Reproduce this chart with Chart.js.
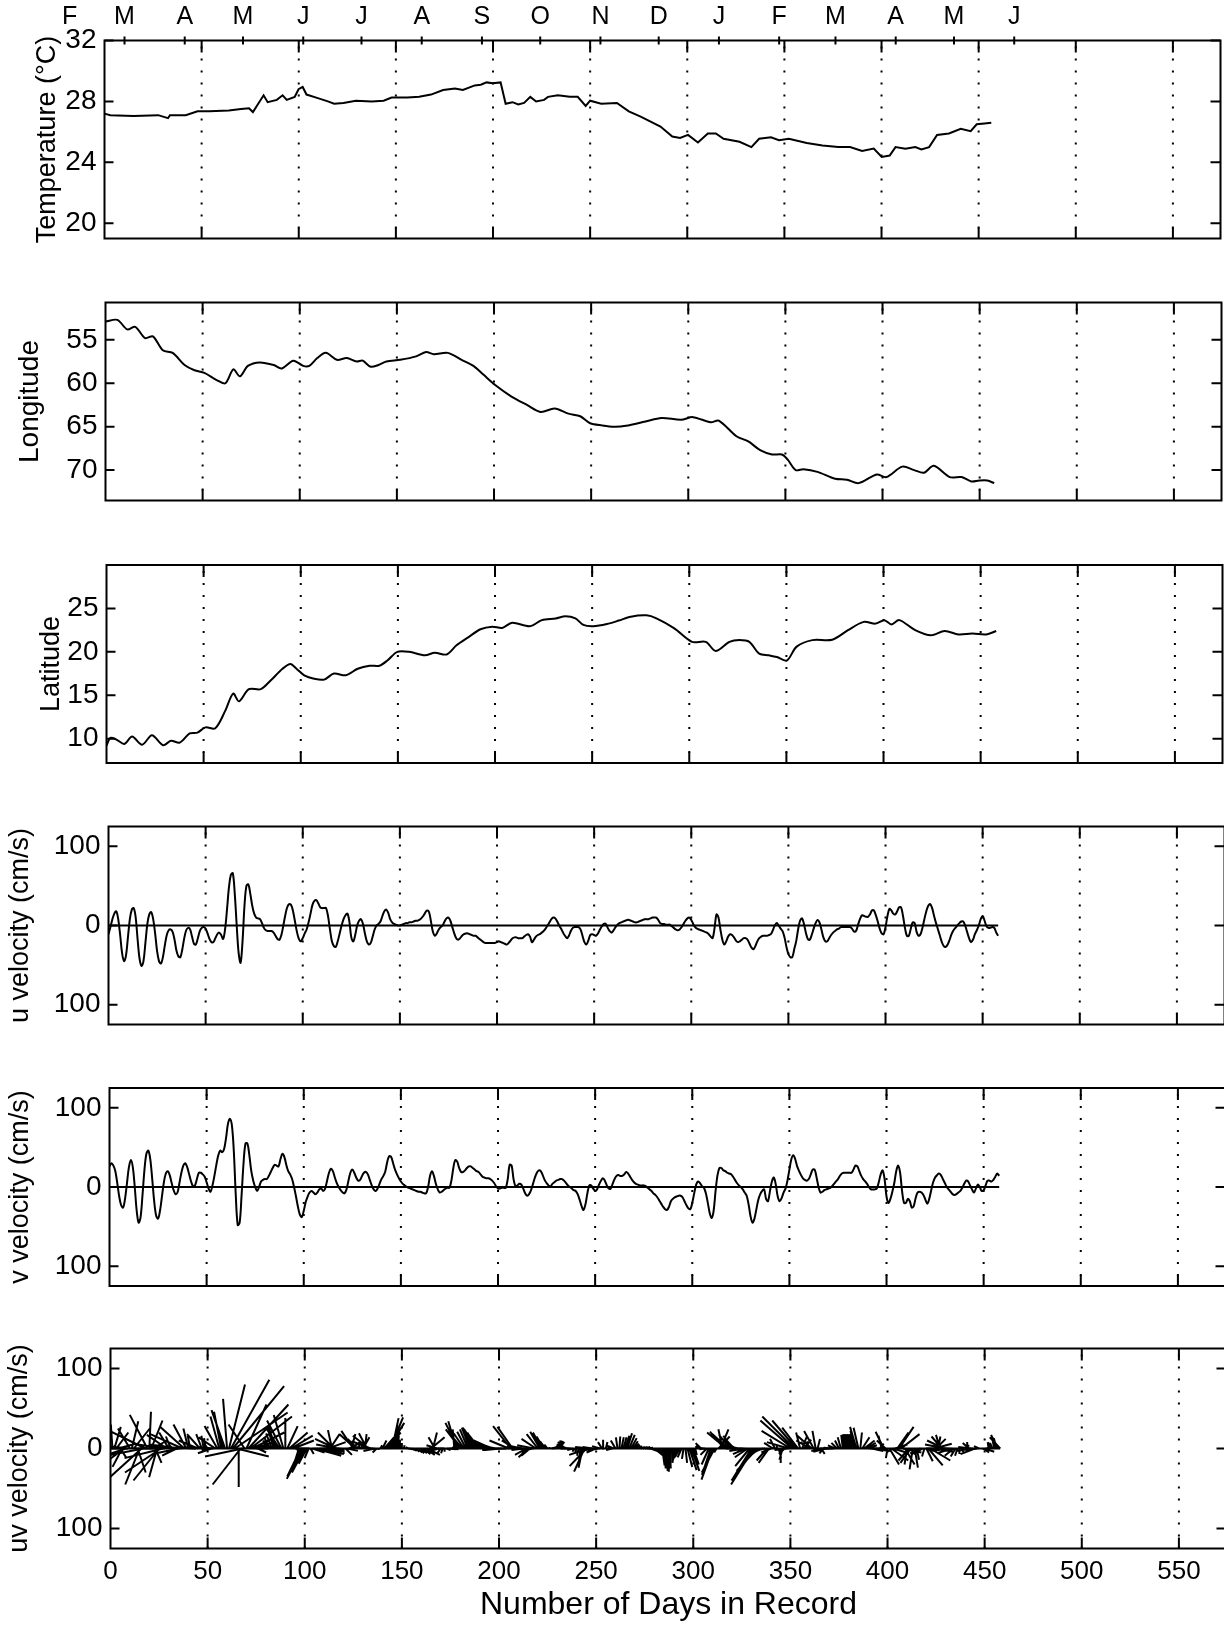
<!DOCTYPE html>
<html>
<head>
<meta charset="utf-8">
<title>Drifter record</title>
<script src="https://cdn.jsdelivr.net/npm/chart.js@4.4.1/dist/chart.umd.min.js"></script>
<style>
  body { margin: 0; background: #fff; width: 1224px; height: 1625px; position: relative; overflow: hidden; }
  canvas { position: absolute; }
</style>
</head>
<body>
<canvas id="c1" width="1224" height="270" style="left:0px;top:0px"></canvas>
<canvas id="c2" width="1224" height="260" style="left:1px;top:272px"></canvas>
<canvas id="c3" width="1224" height="260" style="left:2px;top:535px"></canvas>
<canvas id="c4" width="1224" height="260" style="left:4px;top:796px"></canvas>
<canvas id="c5" width="1224" height="260" style="left:5px;top:1058px"></canvas>
<canvas id="c6" width="1224" height="307" style="left:6px;top:1318px"></canvas>
<script>
// ---- data ----
let months = ["F", "M", "A", "M", "J", "J", "A", "S", "O", "N", "D", "J", "F", "M", "A", "M", "J"];
let monthDays = [-18, 10.3, 41.3, 71.3, 102.3, 132.3, 163.3, 194.3, 224.3, 255.3, 285.3, 316.3, 347.3, 376.3, 407.3, 437.3, 468.3];
let dayTicks = [0, 50, 100, 150, 200, 250, 300, 350, 400, 450, 500, 550];
let gridDays = [50, 100, 150, 200, 250, 300, 350, 400, 450, 500, 550];

let tempTicks = [20, 24, 28, 32];
let lonTicks = [55, 60, 65, 70];
let latTicks = [10, 15, 20, 25];
let velTicks = [-100, 0, 100];

let tempDay = [0, 3, 15, 27.6, 32.7, 33.7, 41.8, 47.9, 54, 64, 70.3, 74.4, 76.4, 78.4, 81.9, 84, 88.7, 91.7, 93.8, 97.9,
  99.9, 102, 104, 109, 115, 118.2, 123, 129.4, 137.6, 143.7, 147.8, 155.9, 162, 168.1, 174.3, 180.4, 184.5, 190.6, 193.7, 196.7,
  199.8, 203.9, 206.5, 210, 213, 216, 219.2, 222.2, 226.3, 228.3, 233.4, 239.5, 243.6, 247.7, 250, 255.7, 263.8, 269.9, 276, 286.2,
  292.3, 296.3, 300.4, 305.5, 310.6, 314.7, 318.7, 326.9, 333, 337, 343.1, 347.2, 352.3, 361.5, 369.6, 377.7, 383.8, 390, 396, 400.1,
  404.2, 407.2, 412.3, 417.4, 420.5, 424.5, 428.6, 434.7, 440.8, 445.9, 449, 453, 456.5];
let tempVal = [27.2, 27.1, 27.05, 27.1, 26.9, 27.1, 27.1, 27.35, 27.35, 27.4, 27.5, 27.55, 27.3, 27.7, 28.4, 27.95, 28.1, 28.4, 28.1, 28.3,
  28.8, 28.95, 28.45, 28.25, 28.0, 27.85, 27.9, 28.05, 28.0, 28.05, 28.25, 28.25, 28.3, 28.45, 28.75, 28.85, 28.75, 29.05, 29.1, 29.25,
  29.2, 29.25, 27.85, 27.95, 27.8, 27.9, 28.3, 28.0, 28.1, 28.3, 28.4, 28.3, 28.3, 27.7, 28.05, 27.85, 27.9, 27.35, 27.0, 26.35,
  25.7, 25.6, 25.8, 25.3, 25.9, 25.9, 25.55, 25.35, 25.0, 25.55, 25.65, 25.45, 25.55, 25.27, 25.1, 25.0, 25.0, 24.75, 24.9, 24.35,
  24.45, 25.0, 24.9, 25.0, 24.85, 25.0, 25.8, 25.9, 26.2, 26.05, 26.5, 26.55, 26.6];

let lonDay = [0, 6.1, 11.2, 15.3, 20.4, 24.4, 29.5, 34.6, 40.7, 45.8, 50.9, 57, 61.7, 65.8, 69.2, 73.3, 79.4, 86.6, 90.6, 96.7,
  101.8, 104.9, 109, 113.4, 119.1, 124.2, 129.3, 132.4, 136.5, 140.5, 144.6, 151.7, 159.9, 165, 169, 176.2, 183.3, 189.4, 194.5, 200.6,
  208.8, 217, 224, 231.2, 238.3, 244.4, 249.5, 255.6, 261.8, 267.9, 278, 286.2, 296.3, 302.4, 311.6, 315.7, 324.8, 330.9, 337, 343.1,
  348.2, 351.2, 355.3, 359.3, 366.5, 375.6, 381.7, 387.8, 397, 402, 410.2, 416.3, 421.3, 426.4, 434.6, 440.7, 445.7, 449.8, 453.9, 457.5];
let lonVal = [52.9, 52.7, 53.8, 53.5, 54.8, 54.6, 56.2, 56.5, 57.9, 58.5, 58.8, 59.6, 60.0, 58.4, 59.2, 58.0, 57.6, 57.9, 58.3, 57.4,
  58.0, 58.0, 57.1, 56.5, 57.3, 57.1, 57.5, 57.4, 58.1, 57.9, 57.5, 57.3, 56.9, 56.4, 56.65, 56.5, 57.3, 58.0, 59.0, 60.2,
  61.5, 62.5, 63.3, 62.9, 63.5, 63.8, 64.6, 64.85, 65.0, 64.9, 64.4, 64.0, 64.2, 63.9, 64.5, 64.3, 66.1, 66.7, 67.7, 68.2,
  68.2, 68.8, 70.0, 69.9, 70.2, 71.0, 71.1, 71.5, 70.5, 70.8, 69.6, 70.0, 70.3, 69.5, 70.8, 70.8, 71.3, 71.2, 71.2, 71.5];

let latDay = [0, 2, 5.1, 9.2, 13.2, 18.3, 23.4, 29.1, 33.2, 37.7, 42.8, 46.8, 50.9, 56, 61.1, 65.2, 68.2, 73.3, 79.4, 84.5,
  90.6, 94.7, 97.8, 101.8, 106.9, 112, 117.1, 123.2, 129.3, 135.4, 140.5, 144.6, 149.7, 155.8, 163.9, 169, 175.1, 180.2, 186.4, 192.5,
  198.6, 203.7, 208.8, 218, 224.1, 231.2, 236.3, 241.4, 245.5, 250.6, 257.6, 263.7, 269.9, 278, 283.1, 292.3, 301.4, 308.5, 313.6, 320.7,
  325.8, 330.9, 336, 341.1, 345.1, 350.2, 355.3, 363.4, 373.6, 381.7, 389.8, 395.9, 400.4, 404.1, 408.1, 416.3, 424.4, 431.5, 438.6, 445.7,
  452.9, 458];
let latVal = [9.2, 10.1, 9.9, 9.4, 10.25, 9.3, 10.4, 9.25, 9.75, 9.55, 10.6, 10.7, 11.3, 11.2, 13.2, 15.2, 14.3, 15.7, 15.7, 16.7,
  18.05, 18.6, 18.05, 17.3, 16.9, 16.8, 17.5, 17.3, 18.05, 18.4, 18.4, 19.0, 20.0, 20.0, 19.6, 19.9, 19.7, 20.75, 21.7, 22.6,
  22.9, 22.75, 23.35, 22.95, 23.65, 23.85, 24.1, 23.85, 23.1, 22.95, 23.2, 23.6, 24.05, 24.2, 23.85, 22.7, 21.15, 21.15, 20.1, 21.15,
  21.35, 21.15, 19.8, 19.6, 19.4, 19.0, 20.6, 21.35, 21.4, 22.5, 23.45, 23.25, 23.65, 23.15, 23.65, 22.5, 21.9, 22.4, 22.0, 22.1,
  22.0, 22.4];

// daily east (u) and north (v) velocity, cm/s, days 0..458
let uVel = [
  -11, -2, 8, 15, 18, 8, -12, -35, -45, -38,
  -15, 8, 20, 22, 10, -18, -42, -51, -45, -22,
  2, 14, 17, 8, -10, -32, -45, -48, -40, -25,
  -12, -6, -5, -8, -18, -32, -39, -40, -30, -16,
  -6, -3, -5, -14, -23, -24, -16, -7, -3, -2,
  -4, -10, -17, -21, -21, -16, -11, -9, -12, -17,
  -5, 20, 48, 64, 66, 40, 0, -35, -47, -20,
  25, 50, 52, 40, 25, 15, 10, 9, 8, 3,
  -3, -6, -7, -7, -7, -9, -13, -17, -18, -12,
  0, 13, 23, 27, 26, 18, 5, -8, -17, -20,
  -16, -10, -5, 4, 15, 26, 31, 32, 28, 23,
  22, 22, 22, 12, -5, -20, -26, -27, -20, -10,
  0, 8, 13, 15, 5, -15, -20, -12, 0, 6,
  8, 2, -10, -20, -24, -22, -14, -5, 0, 2,
  5, 12, 18, 20, 16, 8, 4, 2, 1, 0,
  0, 1, 2, 3, 3, 4, 4, 5, 6, 6,
  7, 9, 12, 16, 19, 17, 5, -8, -13, -10,
  -5, -2, 0, 5, 9, 10, 6, -2, -10, -16,
  -18, -16, -13, -11, -10, -10, -11, -12, -13, -13,
  -15, -17, -19, -21, -22, -22, -22, -22, -22, -22,
  -21, -20, -21, -22, -23, -24, -22, -19, -16, -15,
  -15, -16, -16, -16, -14, -12, -11, -14, -21, -18,
  -14, -12, -11, -9, -7, -4, 0, 4, 8, 10,
  9, 5, 0, -4, -9, -13, -16, -13, -7, -3,
  -2, -2, -2, -5, -13, -21, -24, -19, -12, -11,
  -12, -13, -10, -5, -1, 2, 2, -3, -7, -9,
  -6, -2, 1, 3, 4, 5, 6, 7, 7, 6,
  5, 4, 4, 5, 6, 7, 8, 8, 8, 9,
  10, 10, 10, 7, 3, 2, 2, 1, 1, 1,
  -1, -3, -5, -6, -5, -2, 2, 6, 9, 10,
  7, 2, -2, -4, -5, -6, -7, -8, -9, -11,
  -14, -16, -3, 14, 10, -5, -18, -24, -20, -14,
  -11, -12, -15, -19, -21, -20, -18, -16, -16, -18,
  -23, -28, -30, -26, -20, -16, -14, -13, -13, -13,
  -12, -11, -6, 0, 3, 0, -4, -7, -15, -27,
  -36, -40, -40, -30, -20, -5, 6, 9, 2, -9,
  -17, -18, -12, -4, 3, 7, 4, -5, -15, -20,
  -20, -16, -12, -9, -7, -5, -4, -2, -2, -2,
  -2, -2, -2, -5, -8, -6, 2, 9, 13, 12,
  11, 11, 14, 19, 19, 13, 5, -4, -10, -11,
  -2, 12, 21, 19, 15, 14, 18, 23, 23, 12,
  -3, -13, -13, -4, 4, 3, -8, -13, -11, -3,
  8, 18, 25, 27, 22, 12, 3, -5, -13, -21,
  -26, -27, -24, -18, -11, -6, -3, 0, 3, 5,
  5, 0, -8, -16, -21, -18, -11, -6, 0, 8,
  12, 6, -1, -3, -3, -2, -3, -9, -13
];
let vVel = [
  26, 30, 27, 20, 5, -12, -23, -26, -15, 5,
  25, 34, 25, 0, -30, -45, -38, -10, 22, 42,
  46, 35, 10, -18, -36, -40, -30, -12, 6, 17,
  20, 15, 5, -4, -9, -7, 5, 18, 27, 30,
  25, 16, 7, 1, 2, 10, 18, 18, 16, 13,
  6, -2, -6, 2, 14, 28, 40, 46, 44, 48,
  62, 80, 86, 78, 45, -10, -48, -45, -10, 30,
  55, 55, 40, 20, 8, 0, -5, 0, 7, 9,
  10, 10, 14, 19, 24, 28, 27, 26, 35, 42,
  38, 28, 20, 16, 10, 0, -12, -25, -35, -38,
  -30, -19, -12, -7, -5, -7, -9, -7, -3, -2,
  -5, -2, 8, 18, 23, 20, 12, 5, 0, -4,
  -7, -8, -3, 8, 18, 22, 18, 12, 8, 9,
  14, 18, 19, 16, 9, 2, -3, -5, -2, 4,
  10, 14, 20, 32, 39, 38, 30, 22, 16, 11,
  7, 4, 2, 0, -1, -2, -3, -4, -5, -6,
  -6, -7, -8, -8, 0, 14, 20, 14, 4, -3,
  -7, -6, -4, -2, -1, -1, 8, 24, 34, 32,
  24, 19, 19, 21, 24, 26, 26, 24, 22, 20,
  19, 16, 13, 12, 11, 11, 10, 8, 5, 1,
  -2, -2, -1, -1, -1, 10, 28, 27, 10, 1,
  2, 4, 3, -2, -8, -11, -9, -4, 4, 12,
  18, 21, 20, 15, 9, 5, 2, 1, 4, 6,
  8, 9, 10, 10, 8, 5, 2, 0, -2, -4,
  -5, -9, -16, -24, -29, -22, -8, 2, 2, -2,
  -5, -3, 3, 8, 11, 8, 2, -2, -2, 4,
  10, 14, 15, 14, 14, 16, 19, 17, 13, 9,
  6, 4, 3, 2, 2, 2, 1, -1, -3, -5,
  -8, -10, -13, -17, -21, -25, -28, -29, -25, -18,
  -15, -13, -12, -11, -11, -13, -18, -23, -27, -28,
  -20, -8, 3, 7, 5, 1, -1, -8, -20, -33,
  -39, -30, -5, 15, 24, 24, 21, 20, 18, 17,
  16, 13, 9, 5, 2, 0, -3, -7, -11, -22,
  -37, -45, -40, -28, -16, -9, -5, -3, -15, -18,
  -5, 7, 12, 3, -12, -18, -14, -7, -2, 8,
  22, 35, 40, 35, 26, 20, 15, 11, 9, 8,
  10, 16, 22, 22, 12, 0, -7, -6, -4, -3,
  -2, -1, 1, 4, 7, 10, 14, 17, 18, 18,
  18, 18, 18, 22, 27, 26, 20, 14, 10, 7,
  4, 0, -3, -3, -3, -2, 6, 16, 21, 10,
  -12, -20, -15, -6, 5, 20, 27, 18, -5, -20,
  -20, -15, -18, -26, -24, -14, -7, -6, -7, -10,
  -16, -21, -15, -4, 6, 12, 15, 17, 15, 10,
  5, 0, -3, -6, -9, -10, -9, -7, -5, -1,
  4, 8, 7, 2, -3, -7, -2, 3, 0, -5,
  -4, 2, 8, 8, 7, 9, 13, 17, 14
];
let zeroDay = [0, 458];

// ---- layout ----
const FONT = "'Liberation Sans', Arial, Helvetica, sans-serif";
Chart.defaults.font.family = FONT;
Chart.defaults.color = "#000";

const dayMin = 0, dayMax = 574.5;
const velMin = -125, velMax = 125;
const plotW = 1116, stickPlotH = 200;
// days per cm/s so a stick keeps its true direction on screen
const stickK = (stickPlotH / (velMax - velMin)) / (plotW / (dayMax - dayMin));

let velDays = uVel.map((_, i) => i);
let pairs = (xs, ys) => xs.map((x, i) => ({ x: x, y: ys[i] }));

function lineSet(points, tension) {
  return {
    data: points, borderColor: "#000", borderWidth: 2,
    pointRadius: 0, tension: tension, fill: false, spanGaps: false
  };
}

let zeroSet = () => lineSet(zeroDay.map((d) => ({ x: d, y: 0 })), 0);

let stickPoints = [];
velDays.forEach((d, i) => {
  stickPoints.push({ x: d, y: 0 });
  stickPoints.push({ x: d + uVel[i] * stickK, y: vVel[i] });
  stickPoints.push({ x: d, y: null });
});

const framePlugin = {
  id: "frame",
  beforeDatasetsDraw(chart) {
    const { ctx, chartArea: a, scales: { x } } = chart;
    ctx.save();
    ctx.strokeStyle = "#000";
    ctx.lineWidth = 2;
    ctx.setLineDash([2, 10]);
    gridDays.forEach((d) => {
      const px = x.getPixelForValue(d);
      ctx.beginPath();
      ctx.moveTo(px, a.top + 6);
      ctx.lineTo(px, a.bottom);
      ctx.stroke();
    });
    ctx.restore();
  },
  afterDatasetsDraw(chart) {
    const { ctx, chartArea: a, scales: { x, y } } = chart;
    ctx.save();
    ctx.strokeStyle = "#000";
    ctx.lineWidth = 2;
    ctx.strokeRect(a.left, a.top, a.right - a.left, a.bottom - a.top);
    ctx.beginPath();
    gridDays.forEach((d) => {
      const px = x.getPixelForValue(d);
      ctx.moveTo(px, a.top); ctx.lineTo(px, a.top + 12);
      ctx.moveTo(px, a.bottom); ctx.lineTo(px, a.bottom - 11);
    });
    y.ticks.forEach((t) => {
      const py = y.getPixelForValue(t.value);
      ctx.moveTo(a.left, py); ctx.lineTo(a.left + 9, py);
      ctx.moveTo(a.right, py); ctx.lineTo(a.right - 10, py);
    });
    ctx.stroke();
    ctx.restore();
  }
};

const monthPlugin = {
  id: "months",
  afterDraw(chart) {
    const { ctx, chartArea: a, scales: { x } } = chart;
    ctx.save();
    ctx.font = "25px " + FONT;
    ctx.fillStyle = "#000";
    ctx.strokeStyle = "#000";
    ctx.lineWidth = 2;
    ctx.textAlign = "center";
    ctx.textBaseline = "middle";
    monthDays.forEach((d, i) => {
      const px = x.getPixelForValue(d);
      ctx.fillText(months[i], px, a.top - 23);
      if (d >= dayMin) {
        ctx.beginPath();
        ctx.moveTo(px, a.top - 4);
        ctx.lineTo(px, a.top + 4);
        ctx.stroke();
      }
    });
    ctx.restore();
  }
};

function makePanel(id, p) {
  let xAxis = {
    type: "linear", min: dayMin, max: dayMax, display: !!p.showX, position: "bottom",
    afterBuildTicks: (s) => { s.ticks = dayTicks.map((v) => ({ value: v })); },
    grid: { display: false, drawTicks: false },
    border: { display: false },
    ticks: { font: { size: 26 }, padding: 8, maxRotation: 0, autoSkip: false, color: "#000" },
    title: {
      display: !!p.showX, text: "Number of Days in Record", color: "#000",
      font: { size: 32, lineHeight: 1.2 }, padding: { top: 0, bottom: 1 }
    }
  };
  if (p.showX) xAxis.afterFit = (s) => { s.height = p.xHeight; };

  new Chart(document.getElementById(id), {
    type: "line",
    data: { datasets: p.datasets },
    options: {
      responsive: false,
      animation: false,
      events: [],
      layout: { padding: { top: p.padTop, bottom: p.padBottom || 0, left: 0, right: 3.5 } },
      plugins: { legend: { display: false }, tooltip: { enabled: false } },
      scales: {
        x: xAxis,
        y: {
          type: "linear", min: p.min, max: p.max, reverse: !!p.reverse,
          afterBuildTicks: (s) => { s.ticks = p.ticks.map((v) => ({ value: v })); },
          afterFit: (s) => { s.width = 104.5; },
          grid: { display: false, drawTicks: false },
          border: { display: false },
          ticks: { font: { size: 28 }, padding: 8, color: "#000", callback: (v) => String(Math.abs(v)) },
          title: {
            display: true, text: p.title, color: "#000",
            font: { size: p.titleSize || 27, lineHeight: 1 },
            padding: { top: p.titlePad, bottom: 0 }
          }
        }
      }
    },
    plugins: p.months ? [framePlugin, monthPlugin] : [framePlugin]
  });
}

makePanel("c1", {
  padTop: 40.5, padBottom: 31.5, min: 19, max: 32, ticks: tempTicks,
  title: "Temperature (\u00B0C)", titlePad: 34, months: true,
  datasets: [lineSet(pairs(tempDay, tempVal), 0)]
});
makePanel("c2", {
  padTop: 30.5, padBottom: 31.5, min: 50.7, max: 73.5, reverse: true, ticks: lonTicks,
  title: "Longitude", titleSize: 28, titlePad: 15,
  datasets: [lineSet(pairs(lonDay, lonVal), 0.3)]
});
makePanel("c3", {
  padTop: 30, padBottom: 32, min: 7.2, max: 30, ticks: latTicks,
  title: "Latitude", titlePad: 36,
  datasets: [lineSet(pairs(latDay, latVal), 0.3)]
});
makePanel("c4", {
  padTop: 30.5, padBottom: 31.5, min: velMin, max: velMax, ticks: velTicks,
  title: "u velocity (cm/s)", titlePad: 3,
  datasets: [zeroSet(), lineSet(pairs(velDays, uVel), 0.35)]
});
makePanel("c5", {
  padTop: 30, padBottom: 32, min: velMin, max: velMax, ticks: velTicks,
  title: "v velocity (cm/s)", titlePad: 2,
  datasets: [zeroSet(), lineSet(pairs(velDays, vVel), 0.35)]
});
makePanel("c6", {
  padTop: 30.5, padBottom: 0, min: velMin, max: velMax, ticks: velTicks,
  title: "uv velocity (cm/s)", titlePad: 0, showX: true, xHeight: 76.5,
  datasets: [
    Object.assign(lineSet(stickPoints, 0), { borderWidth: 2 }),
    zeroSet()
  ]
});
</script>
</body>
</html>
